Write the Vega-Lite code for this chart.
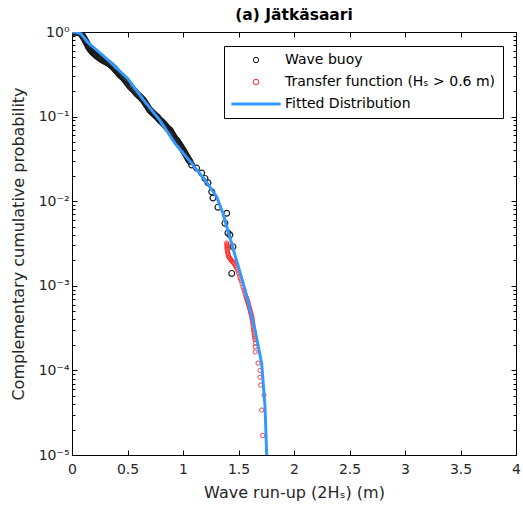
{
  "$schema": "https://vega.github.io/schema/vega-lite/v6.json",
  "width": 444,
  "height": 423,
  "autosize": "none",
  "padding": {"left": 72, "top": 32, "right": 7, "bottom": 57},
  "background": "white",
  "config": {
    "font": "DejaVu Sans",
    "view": {"stroke": "black", "strokeWidth": 1},
    "axis": {"grid": false, "domainColor": "black", "tickColor": "black", "labelColor": "#262626", "titleColor": "#262626", "labelFont": "DejaVu Sans", "titleFont": "DejaVu Sans", "labelFontSize": 14, "titleFontSize": 16, "titleFontWeight": "normal"},
    "legend": {"labelFont": "DejaVu Sans", "labelFontSize": 14, "labelColor": "black"}
  },
  "title": {"text": "(a) Jätkäsaari", "fontSize": 15.5, "fontWeight": "bold", "color": "black", "font": "DejaVu Sans", "offset": 2, "anchor": "middle"},
  "datasets": {
    "buoy": [
      {"x": 0.0, "p": 1.0}, {"x": 0.01, "p": 1.0}, {"x": 0.02, "p": 1.0}, {"x": 0.027, "p": 1.0}, {"x": 0.035, "p": 0.999}, {"x": 0.04, "p": 0.998}, {"x": 0.05, "p": 0.993}, {"x": 0.06, "p": 0.986}, {"x": 0.07, "p": 0.977}, {"x": 0.075, "p": 0.97}, {"x": 0.08, "p": 0.96}, {"x": 0.085, "p": 0.94}, {"x": 0.09, "p": 0.923}, {"x": 0.095, "p": 0.9}, {"x": 0.1, "p": 0.881}, {"x": 0.107, "p": 0.85}, {"x": 0.114, "p": 0.82}, {"x": 0.12, "p": 0.79}, {"x": 0.125, "p": 0.77}, {"x": 0.13, "p": 0.75}, {"x": 0.137, "p": 0.72}, {"x": 0.144, "p": 0.684}, {"x": 0.15, "p": 0.665}, {"x": 0.155, "p": 0.65}, {"x": 0.16, "p": 0.632}, {"x": 0.165, "p": 0.617}, {"x": 0.175, "p": 0.6}, {"x": 0.182, "p": 0.585}, {"x": 0.19, "p": 0.569}, {"x": 0.198, "p": 0.556}, {"x": 0.205, "p": 0.545}, {"x": 0.213, "p": 0.535}, {"x": 0.22, "p": 0.525}, {"x": 0.23, "p": 0.512}, {"x": 0.24, "p": 0.5}, {"x": 0.25, "p": 0.49}, {"x": 0.26, "p": 0.479}, {"x": 0.27, "p": 0.47}, {"x": 0.28, "p": 0.462}, {"x": 0.29, "p": 0.455}, {"x": 0.3, "p": 0.447}, {"x": 0.31, "p": 0.44}, {"x": 0.32, "p": 0.432}, {"x": 0.33, "p": 0.425}, {"x": 0.34, "p": 0.417}, {"x": 0.35, "p": 0.405}, {"x": 0.36, "p": 0.395}, {"x": 0.37, "p": 0.383}, {"x": 0.38, "p": 0.372}, {"x": 0.388, "p": 0.362}, {"x": 0.395, "p": 0.352}, {"x": 0.405, "p": 0.341}, {"x": 0.414, "p": 0.331}, {"x": 0.422, "p": 0.321}, {"x": 0.43, "p": 0.312}, {"x": 0.44, "p": 0.303}, {"x": 0.45, "p": 0.295}, {"x": 0.46, "p": 0.287}, {"x": 0.47, "p": 0.279}, {"x": 0.478, "p": 0.271}, {"x": 0.486, "p": 0.263}, {"x": 0.493, "p": 0.255}, {"x": 0.5, "p": 0.247}, {"x": 0.51, "p": 0.238}, {"x": 0.52, "p": 0.229}, {"x": 0.53, "p": 0.222}, {"x": 0.54, "p": 0.215}, {"x": 0.552, "p": 0.207}, {"x": 0.565, "p": 0.2}, {"x": 0.572, "p": 0.194}, {"x": 0.58, "p": 0.189}, {"x": 0.59, "p": 0.183}, {"x": 0.6, "p": 0.178}, {"x": 0.61, "p": 0.173}, {"x": 0.62, "p": 0.168}, {"x": 0.63, "p": 0.163}, {"x": 0.64, "p": 0.158}, {"x": 0.648, "p": 0.153}, {"x": 0.655, "p": 0.148}, {"x": 0.662, "p": 0.143}, {"x": 0.67, "p": 0.138}, {"x": 0.678, "p": 0.133}, {"x": 0.685, "p": 0.129}, {"x": 0.692, "p": 0.124}, {"x": 0.7, "p": 0.12}, {"x": 0.708, "p": 0.117}, {"x": 0.715, "p": 0.115}, {"x": 0.722, "p": 0.112}, {"x": 0.73, "p": 0.11}, {"x": 0.738, "p": 0.107}, {"x": 0.745, "p": 0.105}, {"x": 0.754, "p": 0.102}, {"x": 0.763, "p": 0.1}, {"x": 0.77, "p": 0.098}, {"x": 0.775, "p": 0.096}, {"x": 0.782, "p": 0.0935}, {"x": 0.79, "p": 0.0912}, {"x": 0.797, "p": 0.0895}, {"x": 0.805, "p": 0.088}, {"x": 0.812, "p": 0.086}, {"x": 0.82, "p": 0.0839}, {"x": 0.828, "p": 0.082}, {"x": 0.835, "p": 0.08}, {"x": 0.842, "p": 0.078}, {"x": 0.85, "p": 0.0759}, {"x": 0.858, "p": 0.074}, {"x": 0.865, "p": 0.072}, {"x": 0.874, "p": 0.0705}, {"x": 0.883, "p": 0.0692}, {"x": 0.89, "p": 0.067}, {"x": 0.895, "p": 0.065}, {"x": 0.903, "p": 0.0625}, {"x": 0.91, "p": 0.0603}, {"x": 0.918, "p": 0.058}, {"x": 0.925, "p": 0.056}, {"x": 0.934, "p": 0.054}, {"x": 0.943, "p": 0.0525}, {"x": 0.95, "p": 0.051}, {"x": 0.955, "p": 0.05}, {"x": 0.962, "p": 0.048}, {"x": 0.97, "p": 0.0468}, {"x": 0.978, "p": 0.045}, {"x": 0.985, "p": 0.0435}, {"x": 0.992, "p": 0.042}, {"x": 1.0, "p": 0.0403}, {"x": 1.008, "p": 0.039}, {"x": 1.015, "p": 0.0375}, {"x": 1.022, "p": 0.036}, {"x": 1.03, "p": 0.0347}, {"x": 1.038, "p": 0.0333}, {"x": 1.045, "p": 0.032}, {"x": 1.053, "p": 0.0307}, {"x": 1.063, "p": 0.0295},
      {"x": 1.078, "p": 0.0268}, {"x": 1.123, "p": 0.0246}, {"x": 1.168, "p": 0.0215}, {"x": 1.198, "p": 0.0186}, {"x": 1.225, "p": 0.0165}, {"x": 1.259, "p": 0.0129}, {"x": 1.27, "p": 0.0109}, {"x": 1.315, "p": 0.0085}, {"x": 1.394, "p": 0.0072}, {"x": 1.378, "p": 0.0055}, {"x": 1.405, "p": 0.0042}, {"x": 1.423, "p": 0.004}, {"x": 1.45, "p": 0.0029}, {"x": 1.439, "p": 0.0014}
    ],
    "transfer": [
      {"x": 1.394, "p": 0.0032}, {"x": 1.397, "p": 0.0031}, {"x": 1.396, "p": 0.003}, {"x": 1.398, "p": 0.0029}, {"x": 1.396, "p": 0.0028}, {"x": 1.399, "p": 0.0027}, {"x": 1.4, "p": 0.0026}, {"x": 1.402, "p": 0.0025}, {"x": 1.405, "p": 0.0024}, {"x": 1.408, "p": 0.0023}, {"x": 1.412, "p": 0.0022}, {"x": 1.418, "p": 0.00215}, {"x": 1.423, "p": 0.0021}, {"x": 1.43, "p": 0.00205}, {"x": 1.435, "p": 0.002}, {"x": 1.443, "p": 0.00195}, {"x": 1.45, "p": 0.0019}, {"x": 1.458, "p": 0.00185}, {"x": 1.465, "p": 0.0018}, {"x": 1.472, "p": 0.00173}, {"x": 1.48, "p": 0.00166}, {"x": 1.487, "p": 0.00158}, {"x": 1.495, "p": 0.0015}, {"x": 1.502, "p": 0.0014}, {"x": 1.51, "p": 0.0013}, {"x": 1.517, "p": 0.00122}, {"x": 1.525, "p": 0.00115}, {"x": 1.532, "p": 0.00106}, {"x": 1.54, "p": 0.00097}, {"x": 1.548, "p": 0.0009}, {"x": 1.555, "p": 0.00085}, {"x": 1.562, "p": 0.00079}, {"x": 1.568, "p": 0.00074}, {"x": 1.573, "p": 0.00071}, {"x": 1.578, "p": 0.00068}, {"x": 1.582, "p": 0.00065}, {"x": 1.586, "p": 0.00063}, {"x": 1.59, "p": 0.0006}, {"x": 1.595, "p": 0.00057}, {"x": 1.6, "p": 0.00054}, {"x": 1.604, "p": 0.00052}, {"x": 1.608, "p": 0.00049}, {"x": 1.612, "p": 0.00047}, {"x": 1.616, "p": 0.00045}, {"x": 1.62, "p": 0.00043}, {"x": 1.622, "p": 0.00041}, {"x": 1.625, "p": 0.00039}, {"x": 1.628, "p": 0.00037}, {"x": 1.63, "p": 0.00035}, {"x": 1.632, "p": 0.00033}, {"x": 1.635, "p": 0.00031}, {"x": 1.638, "p": 0.000295}, {"x": 1.64, "p": 0.00028}, {"x": 1.643, "p": 0.000265}, {"x": 1.645, "p": 0.00025}, {"x": 1.648, "p": 0.00024}, {"x": 1.65, "p": 0.00023}, {"x": 1.652, "p": 0.00021}, {"x": 1.65, "p": 0.00019}, {"x": 1.65, "p": 0.000165}, {"x": 1.676, "p": 0.000122}, {"x": 1.694, "p": 0.0001}, {"x": 1.694, "p": 0.000083}, {"x": 1.7, "p": 0.000067}, {"x": 1.73, "p": 0.000051}, {"x": 1.709, "p": 0.000034}, {"x": 1.718, "p": 0.000017}
    ],
    "fit": [
      {"x": 0.0, "p": 1.0}, {"x": 0.03, "p": 0.998}, {"x": 0.08, "p": 0.95}, {"x": 0.144, "p": 0.75}, {"x": 0.234, "p": 0.596}, {"x": 0.351, "p": 0.434}, {"x": 0.505, "p": 0.278}, {"x": 0.64, "p": 0.16}, {"x": 0.79, "p": 0.091}, {"x": 0.928, "p": 0.0483}, {"x": 1.078, "p": 0.028}, {"x": 1.198, "p": 0.0178}, {"x": 1.303, "p": 0.0113}, {"x": 1.36, "p": 0.0072}, {"x": 1.408, "p": 0.0043}, {"x": 1.44, "p": 0.0031}, {"x": 1.468, "p": 0.0023}, {"x": 1.52, "p": 0.00135}, {"x": 1.574, "p": 0.00074}, {"x": 1.649, "p": 0.0003}, {"x": 1.709, "p": 0.00012}, {"x": 1.739, "p": 0.000037}, {"x": 1.754, "p": 0.00001}, {"x": 1.757, "p": 0.000008}
    ]
  },
  "resolve": {"axis": {"x": "independent", "y": "independent"}},
  "layer": [
    {
      "data": {"name": "buoy"},
      "transform": [{"calculate": "'Wave buoy'", "as": "series"}],
      "mark": {"type": "point", "filled": false, "size": 34, "strokeWidth": 1.2, "opacity": 1, "clip": true},
      "encoding": {
        "x": {"field": "x", "type": "quantitative", "scale": {"domain": [0, 4], "nice": false, "zero": false},
          "axis": {"orient": "top", "values": [0, 0.5, 1, 1.5, 2, 2.5, 3, 3.5, 4], "labels": false, "tickSize": -5, "title": null, "domain": false}},
        "y": {"field": "p", "type": "quantitative", "scale": {"type": "log", "domain": [0.00001, 1], "nice": false},
          "axis": {"orient": "right", "labels": false, "title": null, "domain": false,
            "values": [0.00001, 0.00002, 0.00003, 0.00004, 0.00005, 0.00006, 0.00007, 0.00008, 0.00009, 0.0001, 0.0002, 0.0003, 0.0004, 0.0005, 0.0006, 0.0007, 0.0008, 0.0009, 0.001, 0.002, 0.003, 0.004, 0.005, 0.006, 0.007, 0.008, 0.009, 0.01, 0.02, 0.03, 0.04, 0.05, 0.06, 0.07, 0.08, 0.09, 0.1, 0.2, 0.3, 0.4, 0.5, 0.6, 0.7, 0.8, 0.9, 1],
            "tickSize": {"condition": {"test": "datum.value == 1 || datum.value == 0.1 || datum.value == 0.01 || datum.value == 0.001 || datum.value == 0.0001 || datum.value == 0.00001", "value": -5}, "value": -3}}},
        "color": {"field": "series", "type": "nominal",
          "scale": {"domain": ["Wave buoy", "Transfer function (Hₛ > 0.6 m)", "Fitted Distribution"], "range": ["#1a1a1a", "#ff2a2a", "#3399ff"]},
          "legend": {"orient": "none", "legendX": 152, "legendY": 14, "title": null, "strokeColor": "black", "fillColor": "white", "padding": 7, "labelLimit": 400,
            "symbolSize": 30, "symbolStrokeWidth": {"expr": "datum.value == 'Fitted Distribution' ? 3 : 1"}, "symbolOffset": 18, "labelOffset": 22, "rowPadding": 8}},
        "shape": {"field": "series", "type": "nominal",
          "scale": {"domain": ["Wave buoy", "Transfer function (Hₛ > 0.6 m)", "Fitted Distribution"], "range": ["circle", "circle", "M-9,0H9"]}}
      }
    },
    {
      "data": {"name": "transfer"},
      "transform": [{"calculate": "'Transfer function (Hₛ > 0.6 m)'", "as": "series"}],
      "mark": {"type": "point", "filled": false, "size": 18, "strokeWidth": 1, "opacity": 0.9, "clip": true},
      "encoding": {
        "x": {"field": "x", "type": "quantitative", "axis": null},
        "y": {"field": "p", "type": "quantitative", "axis": null},
        "color": {"field": "series", "type": "nominal"},
        "shape": {"field": "series", "type": "nominal"}
      }
    },
    {
      "data": {"name": "fit"},
      "transform": [{"calculate": "'Fitted Distribution'", "as": "series"}],
      "mark": {"type": "line", "strokeWidth": 3, "clip": true},
      "encoding": {
        "x": {"field": "x", "type": "quantitative",
          "axis": {"orient": "bottom", "values": [0, 0.5, 1, 1.5, 2, 2.5, 3, 3.5, 4], "format": "~g", "tickSize": -5, "labelPadding": 12, "title": "Wave run-up (2Hₛ) (m)", "titlePadding": 8, "labelFlush": false}},
        "y": {"field": "p", "type": "quantitative",
          "axis": {"orient": "left", "title": "Complementary cumulative probability", "titlePadding": 12, "labelPadding": 8, "labelOverlap": false, "labelFlush": false,
            "values": [0.00001, 0.00002, 0.00003, 0.00004, 0.00005, 0.00006, 0.00007, 0.00008, 0.00009, 0.0001, 0.0002, 0.0003, 0.0004, 0.0005, 0.0006, 0.0007, 0.0008, 0.0009, 0.001, 0.002, 0.003, 0.004, 0.005, 0.006, 0.007, 0.008, 0.009, 0.01, 0.02, 0.03, 0.04, 0.05, 0.06, 0.07, 0.08, 0.09, 0.1, 0.2, 0.3, 0.4, 0.5, 0.6, 0.7, 0.8, 0.9, 1],
            "labelExpr": "datum.value == 1 ? '10⁰' : datum.value == 0.1 ? '10⁻¹' : datum.value == 0.01 ? '10⁻²' : datum.value == 0.001 ? '10⁻³' : datum.value == 0.0001 ? '10⁻⁴' : datum.value == 0.00001 ? '10⁻⁵' : ''",
            "tickSize": {"condition": {"test": "datum.value == 1 || datum.value == 0.1 || datum.value == 0.01 || datum.value == 0.001 || datum.value == 0.0001 || datum.value == 0.00001", "value": -5}, "value": -3}}},
        "color": {"field": "series", "type": "nominal"}
      }
    }
  ]
}
